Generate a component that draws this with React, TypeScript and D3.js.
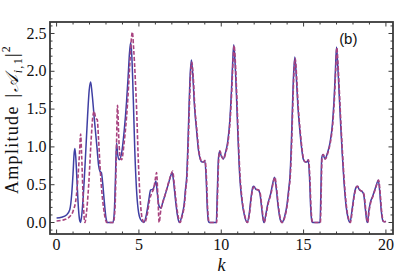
import React from "react";
import * as d3 from "d3";

const xMajorTicks = [0, 5, 10, 15, 20];
const xTickLabels = ["0", "5", "10", "15", "20"];
const yMajorTicks = [0, 0.5, 1, 1.5, 2, 2.5];
const yTickLabels = ["0.0", "0.5", "1.0", "1.5", "2.0", "2.5"];

// solid blue series: [k, amplitude]
const solidPoints: [number, number][] = [
  [0, 0.06], [0.3, 0.07], [0.6, 0.1], [0.8, 0.17], [0.92, 0.38], [1.0, 0.65], [1.06, 0.9], [1.11, 0.98],
  [1.17, 0.85], [1.25, 0.5], [1.33, 0.18], [1.4, 0.03], [1.45, 0], [1.52, 0.08], [1.62, 0.35], [1.75, 0.85],
  [1.88, 1.4], [1.98, 1.75], [2.07, 1.86], [2.15, 1.72], [2.3, 1.35], [2.45, 1.0], [2.55, 0.76], [2.63, 0.68],
  [2.72, 0.66], [2.8, 0.52], [2.9, 0.27], [3.0, 0.06], [3.08, 0], [3.42, 0], [3.5, 0.12], [3.57, 0.55],
  [3.64, 1.05], [3.71, 0.9], [3.8, 0.83], [3.95, 0.92], [4.1, 1.2], [4.25, 1.6], [4.35, 1.95], [4.43, 2.25],
  [4.5, 2.38], [4.57, 2.2], [4.66, 1.62], [4.75, 0.95], [4.85, 0.45], [4.95, 0.18], [5.1, 0.04], [5.3, 0],
  [5.45, 0.1], [5.6, 0.3], [5.71, 0.43], [5.85, 0.44], [5.95, 0.49], [6.03, 0.55], [6.12, 0.38], [6.22, 0.22],
  [6.34, 0.19], [6.45, 0.27], [6.6, 0.37], [6.8, 0.52], [6.95, 0.63], [7.02, 0.66], [7.1, 0.55], [7.22, 0.3],
  [7.35, 0.08], [7.45, 0], [7.6, 0.08], [7.75, 0.25], [7.83, 0.45], [7.9, 0.6], [7.97, 1.0], [8.04, 1.5],
  [8.1, 1.9], [8.19, 2.15], [8.28, 1.92], [8.37, 1.55], [8.5, 1.22], [8.62, 0.95], [8.72, 0.84], [8.82, 0.8],
  [8.92, 0.8], [9.0, 0.82], [9.08, 0.6], [9.15, 0.2], [9.22, 0.02], [9.27, 0], [9.7, 0], [9.76, 0.4],
  [9.83, 0.85], [9.9, 0.94], [10.0, 0.88], [10.12, 0.84], [10.25, 0.92], [10.4, 1.08], [10.52, 1.35], [10.62, 1.75],
  [10.7, 2.15], [10.76, 2.35], [10.83, 2.15], [10.92, 1.7], [11.02, 1.1], [11.12, 0.62], [11.25, 0.3], [11.4, 0.1],
  [11.58, 0], [11.7, 0.12], [11.82, 0.35], [11.92, 0.47], [11.98, 0.48], [12.1, 0.44], [12.25, 0.43], [12.35, 0.38],
  [12.45, 0.2], [12.55, 0.03], [12.6, 0], [12.7, 0.1], [12.82, 0.24], [13.0, 0.38], [13.15, 0.54], [13.24, 0.6],
  [13.33, 0.47], [13.45, 0.22], [13.58, 0.04], [13.67, 0], [13.85, 0.08], [14.0, 0.25], [14.1, 0.45], [14.17, 0.6],
  [14.25, 1.0], [14.32, 1.5], [14.38, 1.9], [14.47, 2.19], [14.56, 1.92], [14.65, 1.55], [14.78, 1.2], [14.9, 0.95],
  [14.98, 0.84], [15.1, 0.8], [15.2, 0.8], [15.28, 0.83], [15.36, 0.6], [15.43, 0.2], [15.5, 0.02], [15.55, 0],
  [16.0, 0], [16.05, 0.4], [16.1, 0.85], [16.18, 0.9], [16.3, 0.84], [16.45, 0.92], [16.6, 1.05], [16.75, 1.3],
  [16.85, 1.62], [16.93, 2.0], [17.0, 2.32], [17.07, 2.1], [17.15, 1.75], [17.25, 1.3], [17.35, 0.9], [17.45, 0.55],
  [17.58, 0.22], [17.7, 0.06], [17.82, 0], [17.95, 0.18], [18.08, 0.38], [18.2, 0.47], [18.26, 0.48], [18.4, 0.43],
  [18.55, 0.41], [18.65, 0.37], [18.75, 0.18], [18.84, 0.02], [18.88, 0], [18.96, 0.15], [19.05, 0.26], [19.2, 0.35],
  [19.38, 0.47], [19.54, 0.56], [19.62, 0.42], [19.72, 0.15], [19.82, 0.02], [19.9, 0.01], [20.0, 0.02],
];

// dashed purple series: [k, amplitude]
const dashedPoints: [number, number][] = [
  [0, 0.02], [0.5, 0.04], [0.8, 0.08], [1.0, 0.15], [1.2, 0.35], [1.3, 0.6], [1.4, 0.95], [1.46, 1.17],
  [1.52, 0.9], [1.6, 0.4], [1.67, 0.08], [1.72, 0], [1.8, 0.1], [1.95, 0.5], [2.1, 1.1], [2.2, 1.4],
  [2.28, 1.47], [2.38, 1.38], [2.47, 1.36], [2.55, 1.1], [2.65, 0.7], [2.75, 0.4], [2.85, 0.2], [2.95, 0.06],
  [3.05, 0], [3.45, 0], [3.55, 0.2], [3.62, 0.8], [3.7, 1.55], [3.78, 1.1], [3.87, 0.85], [3.95, 0.83],
  [4.1, 1.05], [4.3, 1.55], [4.45, 2.1], [4.55, 2.45], [4.6, 2.52], [4.68, 2.3], [4.78, 1.9], [4.86, 1.5],
  [4.95, 0.9], [5.05, 0.4], [5.15, 0.12], [5.25, 0.02], [5.35, 0], [5.5, 0.1], [5.65, 0.3], [5.8, 0.4],
  [5.9, 0.45], [6.0, 0.58], [6.07, 0.66], [6.15, 0.35], [6.23, 0], [6.32, 0.15], [6.5, 0.3], [6.7, 0.45],
  [6.9, 0.6], [7.05, 0.68], [7.15, 0.5], [7.3, 0.2], [7.45, 0.02], [7.5, 0],
  [7.62, 0.08], [7.77, 0.25], [7.85, 0.45], [7.92, 0.6], [7.99, 1.0], [8.06, 1.5], [8.12, 1.88], [8.21, 2.12],
  [8.3, 1.92], [8.39, 1.55], [8.52, 1.22], [8.64, 0.95], [8.74, 0.84], [8.84, 0.8], [8.94, 0.8], [9.02, 0.82],
  [9.1, 0.6], [9.17, 0.2], [9.24, 0.02], [9.29, 0], [9.72, 0], [9.78, 0.4], [9.85, 0.85], [9.92, 0.95],
  [10.02, 0.88], [10.14, 0.84], [10.27, 0.92], [10.42, 1.08], [10.54, 1.35], [10.64, 1.75], [10.72, 2.15], [10.78, 2.34],
  [10.85, 2.15], [10.94, 1.7], [11.04, 1.1], [11.14, 0.62], [11.27, 0.3], [11.42, 0.1], [11.6, 0], [11.72, 0.12],
  [11.84, 0.35], [11.94, 0.46], [12.0, 0.47], [12.12, 0.44], [12.27, 0.43], [12.37, 0.38], [12.47, 0.2], [12.57, 0.03],
  [12.62, 0], [12.72, 0.1], [12.84, 0.24], [13.02, 0.38], [13.17, 0.54], [13.26, 0.6], [13.35, 0.47], [13.47, 0.22],
  [13.6, 0.04], [13.69, 0], [13.87, 0.08], [14.02, 0.25], [14.12, 0.45], [14.19, 0.6], [14.27, 1.0], [14.34, 1.5],
  [14.4, 1.9], [14.49, 2.17], [14.58, 1.92], [14.67, 1.55], [14.8, 1.2], [14.92, 0.95], [15.0, 0.84], [15.12, 0.8],
  [15.22, 0.8], [15.3, 0.83], [15.38, 0.6], [15.45, 0.2], [15.52, 0.02], [15.57, 0], [16.02, 0], [16.07, 0.4],
  [16.12, 0.85], [16.2, 0.9], [16.32, 0.84], [16.47, 0.92], [16.62, 1.05], [16.77, 1.3], [16.87, 1.62], [16.95, 2.0],
  [17.02, 2.31], [17.09, 2.1], [17.17, 1.75], [17.27, 1.3], [17.37, 0.9], [17.47, 0.55], [17.6, 0.22], [17.72, 0.06],
  [17.84, 0], [17.97, 0.18], [18.1, 0.38], [18.22, 0.47], [18.28, 0.48], [18.42, 0.43], [18.57, 0.41], [18.67, 0.37],
  [18.77, 0.18], [18.86, 0.02], [18.9, 0], [18.98, 0.15], [19.07, 0.26], [19.22, 0.35], [19.4, 0.47], [19.56, 0.56],
  [19.64, 0.42], [19.74, 0.15], [19.84, 0.02], [19.92, 0.01], [20.0, 0.01],
];

const W = 415;
const H = 276;
const frame = { left: 50, right: 393, top: 22, bottom: 234 };
const frameColor = "#3a3a3a";
const solidColor = "#3f3fa3";
const dashedColor = "#a8437f";

export default function App() {
  const x = d3.scaleLinear().domain([-0.4, 20.43]).range([frame.left, frame.right]);
  const y = d3.scaleLinear().domain([-0.152, 2.652]).range([frame.bottom, frame.top]);
  const line = d3
    .line<[number, number]>()
    .x((d) => x(d[0]))
    .y((d) => y(d[1]))
    .curve(d3.curveMonotoneX);

  const xMinor = d3.range(0, 21, 1);
  const yMinor = d3.range(-1, 27).map((i) => i / 10);
  const majLen = 4.5;
  const minLen = 2.5;

  return (
    <svg
      width={W}
      height={H}
      viewBox={`0 0 ${W} ${H}`}
      style={{ position: "absolute", left: 0, top: 0, background: "#fff" }}
    >
      <defs>
        <clipPath id="plotclip">
          <rect x={frame.left} y={frame.top} width={frame.right - frame.left} height={frame.bottom - frame.top} />
        </clipPath>
      </defs>
      <rect x={0} y={0} width={W} height={H} fill="#fff" />

      <g clipPath="url(#plotclip)" fill="none">
        <path d={line(solidPoints) || ""} stroke={solidColor} strokeWidth={1.5} strokeLinejoin="round" />
        <path
          d={line(dashedPoints) || ""}
          stroke={dashedColor}
          strokeWidth={1.6}
          strokeDasharray="4,2"
          strokeLinejoin="round"
        />
      </g>

      {/* ticks */}
      <g stroke={frameColor} strokeWidth={1}>
        {xMinor.map((v) => {
          const len = v % 5 === 0 ? majLen : minLen;
          const px = x(v);
          return (
            <g key={"xt" + v}>
              <line x1={px} x2={px} y1={frame.bottom} y2={frame.bottom - len} />
              <line x1={px} x2={px} y1={frame.top} y2={frame.top + len} />
            </g>
          );
        })}
        {yMinor.map((v, i) => {
          const major = Math.round(v * 10) % 5 === 0;
          const len = major ? majLen : minLen;
          const py = y(v);
          if (py > frame.bottom || py < frame.top) return null;
          return (
            <g key={"yt" + i}>
              <line x1={frame.left} x2={frame.left + len} y1={py} y2={py} />
              <line x1={frame.right} x2={frame.right - len} y1={py} y2={py} />
            </g>
          );
        })}
      </g>

      <rect
        x={frame.left}
        y={frame.top}
        width={frame.right - frame.left}
        height={frame.bottom - frame.top}
        fill="none"
        stroke={frameColor}
        strokeWidth={1.8}
      />

      {/* tick labels */}
      <g fontFamily="Liberation Serif, serif" fontSize={16} fill="#111">
        {xMajorTicks.map((v, i) => (
          <text key={"xl" + v} x={x(v)} y={249.5} textAnchor="middle">
            {xTickLabels[i]}
          </text>
        ))}
        {yMajorTicks.map((v, i) => (
          <text key={"yl" + v} x={46.5} y={y(v) + 5.2} textAnchor="end">
            {yTickLabels[i]}
          </text>
        ))}
      </g>

      {/* axis labels */}
      <text
        x={(frame.left + frame.right) / 2}
        y={270.5}
        textAnchor="middle"
        fontFamily="Liberation Serif, serif"
        fontStyle="italic"
        fontSize={18}
        fill="#111"
      >
        k
      </text>
      <text
        transform="translate(17.5,194) rotate(-90)"
        fontFamily="Liberation Serif, serif"
        fontSize={18}
        letterSpacing={1.3}
        fill="#111"
      >
        Amplitude <tspan dx={2}>|</tspan>
        <tspan fontStyle="italic" dx={1}>𝒜</tspan>
        <tspan fontSize={12} dy={4} fontStyle="italic">i</tspan>
        <tspan fontSize={12}>,1</tspan>
        <tspan dy={-4}>|</tspan>
        <tspan fontSize={12} dy={-8}>2</tspan>
      </text>

      <text x={348.3} y={43.5} textAnchor="middle" fontFamily="Liberation Sans, Arial, sans-serif" fontSize={15} fill="#111">
        (b)
      </text>
    </svg>
  );
}
